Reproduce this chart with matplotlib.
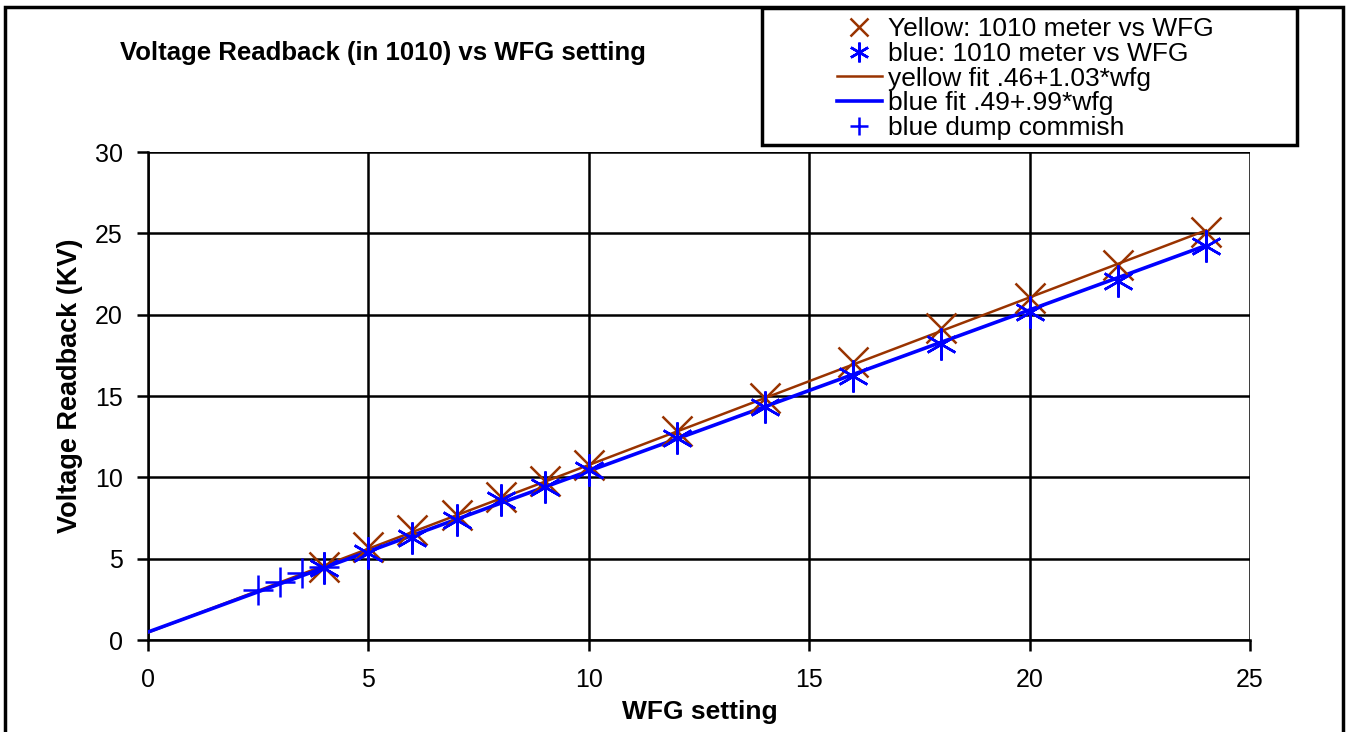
import numpy as np
import matplotlib
matplotlib.use("Agg")
import matplotlib.pyplot as plt
from matplotlib.patches import Rectangle

plt.rcParams['font.family'] = ['Liberation Sans', 'DejaVu Sans']

# data
wfg = [4, 5, 6, 7, 8, 9, 10, 12, 14, 16, 18, 20, 22, 24]
yellow_kv = [4.5, 5.7, 6.75, 7.7, 8.8, 9.8, 10.75, 12.85, 14.9, 17.1, 19.2, 21.0, 23.05, 25.1]
blue_kv = [4.4, 5.35, 6.3, 7.4, 8.6, 9.4, 10.45, 12.4, 14.3, 16.2, 18.2, 20.15, 22.1, 24.2]
dump_wfg = [2.5, 3, 3.5, 4]
dump_kv = [3.05, 3.55, 4.1, 4.5]
fit_x = [0, 24]
yellow_fit = [0.46 + 1.03 * v for v in fit_x]
blue_fit = [0.49 + 0.99 * v for v in fit_x]

brown = '#993300'
blue = '#0000ff'

fig = plt.figure(figsize=(13.47, 7.32), dpi=100)
ax = fig.add_axes([148/1347, 92/732, 1102/1347, 488/732])

l1, = ax.plot(wfg, yellow_kv, 'x', color=brown, ms=21, mew=1.8, ls='none',
              label='Yellow: 1010 meter vs WFG', zorder=4)
l2, = ax.plot(wfg, blue_kv, marker=(6, 2, 0), color=blue, ms=23, mew=1.8, ls='none',
              label='blue: 1010 meter vs WFG', zorder=5)
l3, = ax.plot(fit_x, yellow_fit, '-', color=brown, lw=1.8,
              label='yellow fit .46+1.03*wfg', zorder=3)
l4, = ax.plot(fit_x, blue_fit, '-', color=blue, lw=2.6,
              label='blue fit .49+.99*wfg', zorder=3)
l5, = ax.plot(dump_wfg, dump_kv, '+', color=blue, ms=21, mew=1.8, ls='none',
              label='blue dump commish', zorder=5)

ax.set_xlim(0, 25)
ax.set_ylim(0, 30)
ax.set_xticks(range(0, 26, 5))
ax.set_yticks(range(0, 31, 5))
ax.grid(True, color='black', lw=1.8)
ax.set_axisbelow(True)
for s in ['top', 'right']:
    ax.spines[s].set_visible(False)
for s in ['left', 'bottom']:
    ax.spines[s].set_linewidth(1.8)
ax.tick_params(direction='out', length=8, width=1.8, labelsize=18, pad=12)
ax.tick_params(axis='y', pad=10)
ax.set_xlabel('WFG setting', fontsize=19, fontweight='bold')
ax.set_ylabel('Voltage Readback (KV)', fontsize=19.5, fontweight='bold')
ax.xaxis.set_label_coords(0.501, -0.1475)
ax.yaxis.set_label_coords(-0.0708, 0.52)
ax.xaxis.label.set_va('center')
ax.yaxis.label.set_va('center')

fig.text(120/1347, 1 - 53/732, 'Voltage Readback (in 1010) vs WFG setting',
         fontsize=18.5, fontweight='bold', va='center', ha='left')

# outer frame and legend frame
fig.patches.append(Rectangle((5/1347, -0.1), 1338/1347, 1.1 - 7/732, transform=fig.transFigure,
                             fill=False, ec='black', lw=2.5))
fig.patches.append(Rectangle((762/1347, 1 - 145/732), 535/1347, 137/732, transform=fig.transFigure,
                             fill=False, ec='black', lw=2.5))

fig.legend(handles=[l1, l2, l3, l4, l5], loc='upper left',
           bbox_to_anchor=(837/1347, 1 - 17/732), frameon=False, fontsize=19,
           handlelength=1.7, handletextpad=0.25, labelspacing=0.03, borderpad=0,
           borderaxespad=0, markerscale=0.62)

fig.savefig('out.png', dpi=100)
